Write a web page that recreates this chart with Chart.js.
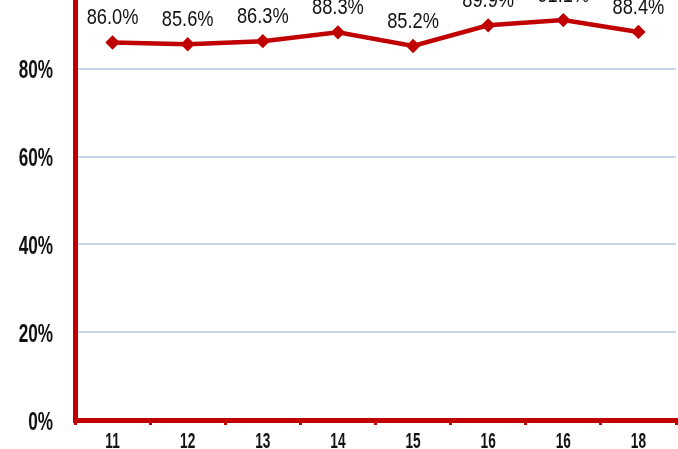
<!DOCTYPE html>
<html>
<head>
<meta charset="utf-8">
<script src="https://cdn.jsdelivr.net/npm/chart.js@4/dist/chart.umd.min.js"></script>
<style>
  html, body { margin: 0; padding: 0; background: #ffffff; }
  #frame { position: relative; width: 678px; height: 449px; overflow: hidden; }
  #holder { position: absolute; left: 0; top: -60px; width: 678px; height: 509px; }
</style>
</head>
<body>
<div id="frame"><div id="holder"><canvas id="chart"></canvas></div></div>
<script>
// Category labels along the bottom axis
const categories = ['11', '12', '13', '14', '15', '16', '16', '18'];
// Share per category, in percent
const shareValues = [86.0, 85.6, 86.3, 88.3, 85.2, 89.9, 91.1, 88.4];
// Value axis ticks
const yTicks = [0, 20, 40, 60, 80, 100];

const RED = '#C00000';
const GRID = '#C6D7EC';
const INK = '#111111';
const FONT = "'Liberation Sans', Arial, sans-serif";

// Draws text squeezed horizontally to get a condensed face
function narrowText(ctx, text, x, y, font, squeeze, align) {
  ctx.save();
  ctx.font = font;
  ctx.fillStyle = INK;
  ctx.textBaseline = 'alphabetic';
  const w = ctx.measureText(text).width * squeeze;
  let left = x;
  if (align === 'center') left = x - w / 2;
  else if (align === 'right') left = x - w;
  ctx.translate(left, y);
  ctx.scale(squeeze, 1);
  ctx.textAlign = 'left';
  ctx.fillText(text, 0, 0);
  ctx.restore();
}

// Axis tick labels and point value labels
const condensedText = {
  id: 'condensedText',
  afterDraw(chart) {
    const ctx = chart.ctx;
    const xs = chart.scales.x;
    const ys = chart.scales.y;
    yTicks.forEach(v => {
      narrowText(ctx, v + '%', 53, ys.getPixelForValue(v) + 9.5,
        'bold 26px ' + FONT, 0.66, 'right');
    });
    categories.forEach((c, i) => {
      narrowText(ctx, c, xs.getPixelForValue(i), chart.height - 1,
        'bold 22px ' + FONT, 0.62, 'center');
    });
    const meta = chart.getDatasetMeta(0);
    meta.data.forEach((pt, i) => {
      narrowText(ctx, shareValues[i].toFixed(1) + '%', pt.x, pt.y - 18,
        '22px ' + FONT, 0.83, 'center');
    });
  }
};

new Chart(document.getElementById('chart'), {
  type: 'line',
  data: {
    labels: categories,
    datasets: [{
      data: shareValues,
      borderColor: RED,
      backgroundColor: RED,
      borderWidth: 4.5,
      pointStyle: 'rectRot',
      pointRadius: 4,
      pointHoverRadius: 4,
      tension: 0,
      clip: false
    }]
  },
  options: {
    responsive: true,
    maintainAspectRatio: false,
    animation: false,
    layout: { autoPadding: false, padding: { top: 41, right: 2, left: 0, bottom: 0 } },
    plugins: { legend: { display: false }, tooltip: { enabled: false } },
    scales: {
      x: {
        offset: true,
        grid: {
          offset: true,
          drawOnChartArea: false,
          drawTicks: true,
          tickLength: 5,
          color: RED,
          lineWidth: 3
        },
        border: { color: RED, width: 5 },
        ticks: { display: false },
        afterFit(scale) {
          scale.height = 29;
          scale.paddingLeft = 0;
          scale.paddingRight = 0;
        }
      },
      y: {
        min: 0,
        max: 100,
        afterBuildTicks(scale) { scale.ticks = yTicks.map(v => ({ value: v })); },
        grid: { color: GRID, lineWidth: 2, drawTicks: false },
        border: { color: RED, width: 5 },
        ticks: { display: false },
        afterFit(scale) {
          scale.width = 75;
          scale.paddingTop = 0;
          scale.paddingBottom = 0;
        }
      }
    }
  },
  plugins: [condensedText]
});
</script>
</body>
</html>
